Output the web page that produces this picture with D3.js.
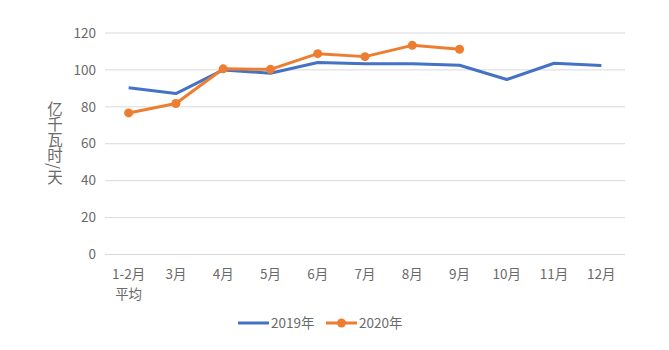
<!DOCTYPE html>
<html>
<head>
<meta charset="utf-8">
<script src="https://cdn.jsdelivr.net/npm/d3@7"></script>
<style>
  html, body { margin: 0; padding: 0; background: #fff; }
  svg { display: block; }
  text { font-family: "Noto Sans CJK SC", "Noto Sans", sans-serif; fill: #6a6a6a; }
</style>
</head>
<body>
<svg id="chart" width="669" height="350"></svg>
<script>
// Daily electricity consumption, 100 million kWh per day
const months = ["1-2月\n平均", "3月", "4月", "5月", "6月", "7月", "8月", "9月", "10月", "11月", "12月"];
const values2019 = [90.3, 87.2, 100.0, 98.2, 104.0, 103.4, 103.4, 102.5, 94.8, 103.6, 102.4];
const values2020 = [76.7, 81.8, 100.6, 100.3, 108.8, 107.2, 113.3, 111.2];
const yTicks = [0, 20, 40, 60, 80, 100, 120];
const seriesNames = ["2019年", "2020年"];
const seriesColors = ["#4472C4", "#ED7D31"];

(function () {
  const svg = d3.select("#chart");
  const plotLeft = 105, plotRight = 625, plotTop = 33, plotBottom = 254.5;

  const x = d3.scaleBand().domain(months).range([plotLeft, plotRight]);
  const y = d3.scaleLinear().domain([0, 120]).range([plotBottom, plotTop]);

  // Horizontal gridlines
  svg.append("g").selectAll("line").data(yTicks).join("line")
    .attr("x1", plotLeft).attr("x2", plotRight)
    .attr("y1", d => y(d)).attr("y2", d => y(d))
    .attr("stroke", "#d9d9d9").attr("stroke-width", 1);

  // Y tick labels
  svg.append("g").selectAll("text").data(yTicks).join("text")
    .attr("x", 96).attr("y", d => y(d)).attr("dy", "0.35em")
    .attr("text-anchor", "end").attr("font-size", 13.5)
    .text(d => d);

  // X category labels, one text element per line
  const xLines = months.flatMap(m => m.split("\n").map((s, i) => ({ m, s, i })));
  svg.append("g").selectAll("text").data(xLines).join("text")
    .attr("x", d => x(d.m) + x.bandwidth() / 2)
    .attr("y", d => 279 + d.i * 19.5)
    .attr("text-anchor", "middle").attr("font-size", 13.5)
    .text(d => d.s);

  // Vertical unit label
  svg.append("text")
    .attr("x", 55).attr("y", 101)
    .attr("font-size", 15.5)
    .style("writing-mode", "vertical-rl")
    .text("亿千瓦时/天");

  const cx = (d, i) => x(months[i]) + x.bandwidth() / 2;
  const line = d3.line().x(cx).y(d => y(d));

  // 2019 line
  svg.append("path").datum(values2019)
    .attr("d", line).attr("fill", "none")
    .attr("stroke", seriesColors[0]).attr("stroke-width", 3)
    .attr("stroke-linejoin", "round");

  // 2020 line with markers
  svg.append("path").datum(values2020)
    .attr("d", line).attr("fill", "none")
    .attr("stroke", seriesColors[1]).attr("stroke-width", 3)
    .attr("stroke-linejoin", "round");
  svg.append("g").selectAll("circle").data(values2020).join("circle")
    .attr("cx", cx).attr("cy", d => y(d)).attr("r", 4.5)
    .attr("fill", seriesColors[1]);

  // Legend
  const legend = svg.append("g").attr("transform", "translate(0,323)");
  const lx = [238, 326];
  seriesNames.forEach((name, i) => {
    legend.append("line").attr("x1", lx[i]).attr("x2", lx[i] + 31)
      .attr("y1", 0).attr("y2", 0)
      .attr("stroke", seriesColors[i]).attr("stroke-width", 3);
    if (i === 1) {
      legend.append("circle").attr("cx", lx[i] + 15.5).attr("cy", 0).attr("r", 4.5)
        .attr("fill", seriesColors[i]);
    }
    legend.append("text").attr("x", lx[i] + 33).attr("y", 0).attr("dy", "0.35em")
      .attr("font-size", 13.5).text(name);
  });
})();
</script>
</body>
</html>
